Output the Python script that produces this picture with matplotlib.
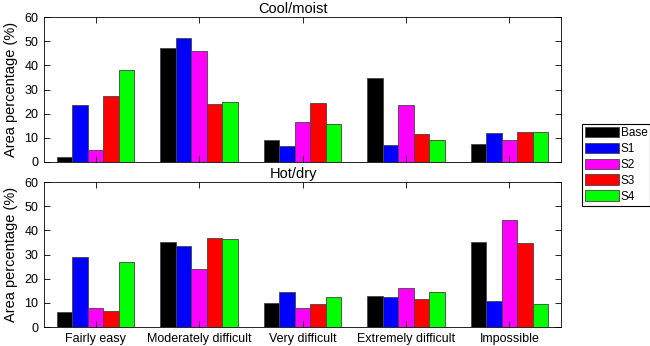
import numpy as np
import matplotlib
matplotlib.use("Agg")
import matplotlib.pyplot as plt

plt.rcParams['font.family'] = ['Liberation Sans', 'DejaVu Sans']

categories = ["Fairly easy", "Moderately difficult", "Very difficult",
              "Extremely difficult", "Impossible"]
series = ["Base", "S1", "S2", "S3", "S4"]
colors = ["#000000", "#0000ff", "#ff00ff", "#ff0000", "#00ff00"]

# rows = categories, cols = series
cool_moist = [
    [2.0, 23.7, 5.0, 27.2, 38.0],
    [47.1, 51.5, 45.8, 24.0, 24.8],
    [9.0, 6.8, 16.5, 24.6, 15.6],
    [34.6, 7.0, 23.5, 11.5, 9.0],
    [7.3, 11.9, 9.2, 12.4, 12.5],
]
hot_dry = [
    [6.4, 28.9, 7.8, 6.7, 26.7],
    [35.1, 33.5, 24.0, 36.8, 36.5],
    [10.0, 14.4, 7.8, 9.7, 12.3],
    [13.0, 12.3, 16.0, 11.6, 14.5],
    [35.1, 10.7, 44.2, 34.7, 9.6],
]

fig = plt.figure(figsize=(6.5, 3.46), dpi=100)
ax1 = fig.add_axes([0.0677, 0.5318, 0.7954, 0.419])
ax2 = fig.add_axes([0.0677, 0.0549, 0.7954, 0.419])

x = np.arange(1, len(categories) + 1)
w = 0.15

for ax, data, title in [(ax1, cool_moist, "Cool/moist"), (ax2, hot_dry, "Hot/dry")]:
    data = np.array(data)
    for j, s in enumerate(series):
        ax.bar(x + (j - 2) * w, data[:, j], width=w, color=colors[j],
               edgecolor="#444444", linewidth=0.6, label=s)
    ax.set_xlim(0.5, 5.5)
    ax.set_ylim(0, 60)
    ax.set_yticks(range(0, 61, 10))
    ax.set_xticks(x)
    ax.tick_params(direction="in", top=True, right=True, length=4, labelsize=9,
                   width=0.6, pad=4)
    ax.set_ylabel("Area percentage (%)", fontsize=10.5, labelpad=5)
    ax.set_title(title, fontsize=10.5, x=0.482, pad=3)
    for sp in ax.spines.values():
        sp.set_linewidth(0.6)

ax1.set_xticklabels([])
ax2.set_xticklabels(categories)

ax1.legend(loc="upper left", bbox_to_anchor=(0.895, 0.642), bbox_transform=fig.transFigure,
           fontsize=8.5, handlelength=2.9, handleheight=1.0, labelspacing=0.3,
           handletextpad=0.15, borderpad=0.25, borderaxespad=0, frameon=True,
           fancybox=False, edgecolor="black", framealpha=1)
ax1.get_legend().get_frame().set_linewidth(0.8)

fig.savefig("out.png", dpi=100)
